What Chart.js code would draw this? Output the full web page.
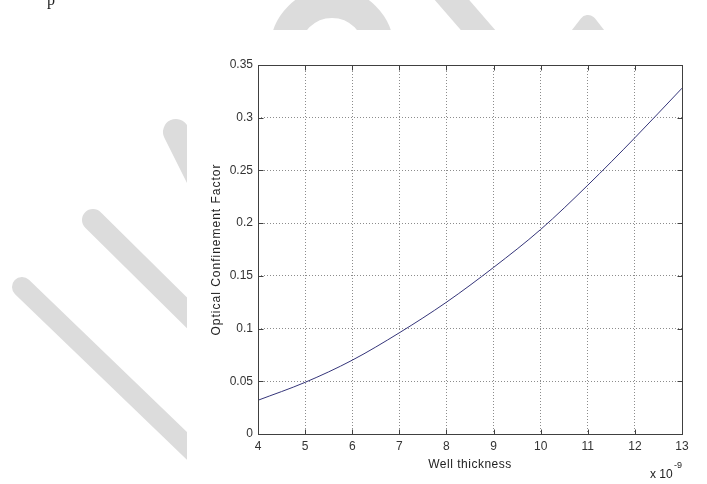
<!DOCTYPE html>
<html>
<head>
<meta charset="utf-8">
<script src="https://cdn.jsdelivr.net/npm/chart.js@4/dist/chart.umd.min.js"></script>
<style>
  html, body { margin: 0; padding: 0; background: #fff; }
</style>
</head>
<body>
<canvas id="grafico" width="707" height="484"></canvas>
<script>
// Dati (spessore in unità di 1e-9 m)
const wellThickness = [4, 5, 6, 7, 8, 9, 10, 11, 12, 13];
const confinement = [0.032, 0.049, 0.070, 0.096, 0.125, 0.158, 0.194, 0.236, 0.281, 0.328];

// Tacche degli assi
const xTicks = [4, 5, 6, 7, 8, 9, 10, 11, 12, 13];
const yTicks = [0, 0.05, 0.1, 0.15, 0.2, 0.25, 0.3, 0.35];
const yTickLabels = ['0', '0.05', '0.1', '0.15', '0.2', '0.25', '0.3', '0.35'];

const FONT = '"Liberation Sans", Arial, sans-serif';

// Sfondo: filigrana grigia e area bianca della figura
const sfondo = {
  id: 'sfondo',
  beforeDraw(chart) {
    const ctx = chart.ctx;
    ctx.save();
    ctx.fillStyle = '#fff';
    ctx.fillRect(0, 0, chart.width, chart.height);

    // lettera tagliata in alto a sinistra
    ctx.fillStyle = '#222';
    ctx.font = '16px "Liberation Serif", serif';
    ctx.textBaseline = 'alphabetic';
    ctx.fillText('p', 47, 5);

    ctx.strokeStyle = '#dcdcdc';
    ctx.lineCap = 'round';
    ctx.lineJoin = 'round';
    const striscia = (w, pts) => {
      ctx.lineWidth = w;
      ctx.beginPath();
      ctx.moveTo(pts[0][0], pts[0][1]);
      for (let i = 1; i < pts.length; i++) ctx.lineTo(pts[i][0], pts[i][1]);
      ctx.stroke();
    };
    striscia(20, [[22, 287], [240, 497]]);
    striscia(22, [[93, 220], [260, 385]]);
    striscia(26, [[176, 132], [230, 240]]);
    striscia(26, [[426, -30], [491, 45]]);
    striscia(18, [[560, 60], [588, 24], [616, 60]]);
    // anello in alto
    ctx.lineWidth = 30;
    ctx.beginPath();
    ctx.arc(332, 50, 47, 0, Math.PI * 2);
    ctx.stroke();

    ctx.fillStyle = '#fff';
    ctx.fillRect(187, 30, 520, 454);
    ctx.restore();
  }
};

// Riquadro, tacche interne e titoli degli assi (stile MATLAB)
const assi = {
  id: 'assi',
  afterDraw(chart) {
    const { ctx, chartArea: a, scales } = chart;
    const L = Math.round(a.left) + 0.5;
    const R = Math.round(a.right) + 0.5;
    const T = Math.round(a.top) + 0.5;
    const B = Math.round(a.bottom) + 0.5;
    ctx.save();
    ctx.strokeStyle = '#404040';
    ctx.lineWidth = 1;
    ctx.strokeRect(L, T, R - L, B - T);
    ctx.beginPath();
    xTicks.forEach(v => {
      const px = Math.round(scales.x.getPixelForValue(v)) + 0.5;
      ctx.moveTo(px, B); ctx.lineTo(px, B - 5);
      ctx.moveTo(px, T); ctx.lineTo(px, T + 5);
    });
    yTicks.forEach(v => {
      const py = Math.round(scales.y.getPixelForValue(v)) + 0.5;
      ctx.moveTo(L, py); ctx.lineTo(L + 5, py);
      ctx.moveTo(R, py); ctx.lineTo(R - 5, py);
    });
    ctx.stroke();

    ctx.fillStyle = '#222';
    ctx.font = '12px ' + FONT;
    ctx.textBaseline = 'alphabetic';
    ctx.textAlign = 'center';
    ctx.letterSpacing = '0.5px';
    ctx.fillText('Well thickness', (a.left + a.right) / 2, 468);

    ctx.save();
    ctx.translate(220, (a.top + a.bottom) / 2);
    ctx.rotate(-Math.PI / 2);
    ctx.letterSpacing = '1px';
    ctx.fillText('Optical Confinement Factor', 0, 0);
    ctx.restore();

    ctx.letterSpacing = '0px';
    ctx.textAlign = 'left';
    ctx.fillText('x 10', 650, 478);
    ctx.font = '9px ' + FONT;
    ctx.fillText('-9', 674, 468);
    ctx.restore();
  }
};

new Chart(document.getElementById('grafico'), {
  type: 'line',
  data: {
    datasets: [{
      data: wellThickness.map((x, i) => ({ x: x, y: confinement[i] })),
      borderColor: '#35357a',
      borderWidth: 1,
      pointRadius: 0,
      cubicInterpolationMode: 'monotone',
      fill: false
    }]
  },
  options: {
    responsive: false,
    animation: false,
    layout: { padding: { left: 0, right: 25, top: 65, bottom: 0 } },
    plugins: {
      legend: { display: false },
      tooltip: { enabled: false }
    },
    scales: {
      x: {
        type: 'linear',
        min: 4,
        max: 13,
        afterBuildTicks: s => { s.ticks = xTicks.map(v => ({ value: v })); },
        afterFit: s => { s.height = 50; },
        grid: { color: '#8c8c8c', lineWidth: 1, drawTicks: false },
        border: { display: false, dash: [1, 2] },
        ticks: {
          padding: 5,
          maxRotation: 0,
          autoSkip: false,
          color: '#333',
          font: { family: FONT, size: 12 },
          callback: v => String(v)
        }
      },
      y: {
        type: 'linear',
        min: 0,
        max: 0.35,
        afterBuildTicks: s => { s.ticks = yTicks.map(v => ({ value: v })); },
        afterFit: s => { s.width = 258; },
        grid: { color: '#8c8c8c', lineWidth: 1, drawTicks: false },
        border: { display: false, dash: [1, 2] },
        ticks: {
          padding: 5,
          color: '#333',
          font: { family: FONT, size: 12 },
          callback: (v, i) => yTickLabels[i]
        }
      }
    }
  },
  plugins: [sfondo, assi]
});
</script>
</body>
</html>
